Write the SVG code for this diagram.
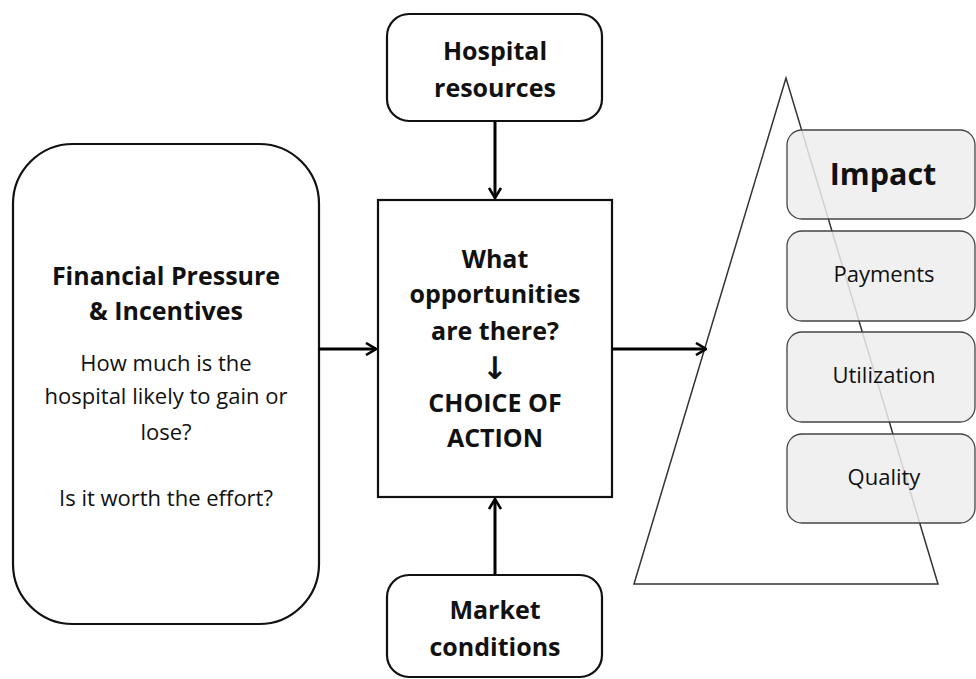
<svg xmlns="http://www.w3.org/2000/svg" width="976" height="679" viewBox="0 0 976 679">
<defs>
<style>
.t{font-family:"Open Sans","Liberation Sans",sans-serif;fill:#111;text-anchor:middle}
.b{font-weight:bold}
.r{font-size:22px}
.bs{font-size:25px}
.box{fill:#fff;stroke:#111;stroke-width:2.2}
.imp{fill:#ededed;fill-opacity:0.85;stroke:#444;stroke-width:1.3}
.con{stroke:#000;stroke-width:3;fill:none}
</style>
<marker id="ah" viewBox="0 0 12 14" refX="11" refY="7" markerWidth="12" markerHeight="14" markerUnits="userSpaceOnUse" orient="auto">
<path d="M1,1 L11,7 L1,13" fill="none" stroke="#000" stroke-width="2.6"/>
</marker>
</defs>
<rect width="976" height="679" fill="#fff"/>
<g id="pyramid">
<polygon points="786,78 634,584 938,584" fill="#fff" stroke="#333" stroke-width="1.5"/>
</g>
<g id="hospital-resources">
<rect class="box" x="387" y="14" width="215" height="107" rx="22"/>
<text class="t b bs" x="495" y="60">Hospital</text>
<text class="t b bs" x="495" y="97">resources</text>
</g>
<g id="financial">
<rect class="box" x="13" y="144" width="306" height="480" rx="60"/>
<text class="t b bs" x="166" y="285">Financial Pressure</text>
<text class="t b bs" x="166" y="320">&amp; Incentives</text>
<text class="t r" x="166" y="371">How much is the</text>
<text class="t r" x="166" y="404">hospital likely to gain or</text>
<text class="t r" x="166" y="440">lose?</text>
<text class="t r" x="166" y="506">Is it worth the effort?</text>
</g>
<g id="choice">
<rect class="box" x="378" y="200" width="234" height="297" rx="0" stroke-width="2.6"/>
<text class="t b bs" x="495" y="268">What</text>
<text class="t b bs" x="495" y="303">opportunities</text>
<text class="t b bs" x="495" y="340">are there?</text>
<text class="t b" x="495" y="379" font-size="31" style="font-family:'DejaVu Sans',sans-serif">↓</text>
<text class="t b bs" x="495" y="412">CHOICE OF</text>
<text class="t b bs" x="495" y="447">ACTION</text>
</g>
<g id="market-conditions">
<rect class="box" x="387" y="575" width="215" height="102" rx="22"/>
<text class="t b bs" x="495" y="619">Market</text>
<text class="t b bs" x="495" y="656">conditions</text>
</g>
<g id="impact">
<rect class="imp" x="787" y="130" width="188" height="89" rx="15"/>
<text class="t b" x="883" y="185" font-size="30.5">Impact</text>
</g>
<g id="payments">
<rect class="imp" x="787" y="231" width="188" height="90" rx="15"/>
<text class="t r" x="884" y="282">Payments</text>
</g>
<g id="utilization">
<rect class="imp" x="787" y="332" width="188" height="90" rx="15"/>
<text class="t r" x="884" y="383">Utilization</text>
</g>
<g id="quality">
<rect class="imp" x="787" y="434" width="188" height="89" rx="15"/>
<text class="t r" x="884" y="485">Quality</text>
</g>
<g id="connectors">
<line class="con" x1="495" y1="121" x2="495" y2="198" marker-end="url(#ah)"/>
<line class="con" x1="495" y1="575" x2="495" y2="499" marker-end="url(#ah)"/>
<line class="con" x1="319" y1="349" x2="376" y2="349" marker-end="url(#ah)"/>
<line class="con" x1="612" y1="349" x2="706" y2="349" marker-end="url(#ah)"/>
</g>
</svg>
